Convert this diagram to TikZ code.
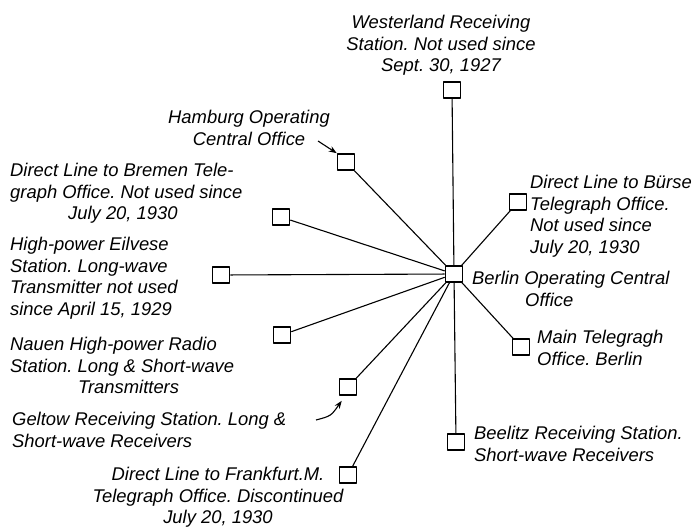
\documentclass[tikz,border=0pt]{standalone}
\usepackage{fontspec}
\setmainfont{Liberation Sans}
\usetikzlibrary{arrows.meta,positioning}
\tikzset{
  stn/.style={draw,line width=1.6pt,minimum width=17pt,minimum height=16pt,inner sep=0pt},
  lbl/.style={inner sep=0pt,font=\itshape\fontsize{18.4}{21.5}\selectfont},
  wire/.style={line width=1.1pt},
}
\frenchspacing

\begin{document}
\begin{tikzpicture}[x=1pt,y=-1pt,>=Stealth,line join=round]
\useasboundingbox (0,0) rectangle (692,529);
% --- stations
\node[stn] (berlin) at (454,274) {};
\node[stn] (west) at (452,90) {};
\node[stn] (ham) at (346,162) {};
\node[stn] (brem) at (281,217) {};
\node[stn] (eil) at (221,275) {};
\node[stn] (nau) at (282,335) {};
\node[stn] (gel) at (348,387) {};
\node[stn] (frk) at (348,475) {};
\node[stn] (beel) at (456,442) {};
\node[stn] (main) at (521,347) {};
\node[stn] (borse) at (518,202) {};
% --- lines out of Berlin
\foreach \s in {west,ham,brem,eil,nau,gel,frk,beel,main,borse}
  \draw[wire] (berlin) -- (\s);
% --- labels
\node[lbl,align=center,anchor=north] (westlbl) at (441,15) {Westerland Receiving\\Station. Not used since\\Sept. 30, 1927};
\node[lbl,align=center,anchor=north] (hamlbl) at (249,110) {Hamburg Operating\\Central Office};
\node[lbl,align=left,anchor=north west] (bremlbl) at (10,163) {Direct Line to Bremen Tele-\\graph Office. Not used since\\\hspace*{58pt}July 20, 1930};
\node[lbl,align=left,anchor=north west] (eillbl) at (10,237) {High-power Eilvese\\Station. Long-wave\\Transmitter not used\\since April 15, 1929};
\node[lbl,align=left,anchor=north west] (naulbl) at (10,337) {Nauen High-power Radio\\Station. Long \& Short-wave\\\hspace*{68pt}Transmitters};
\node[lbl,align=left,anchor=north west] (gellbl) at (12,412) {Geltow Receiving Station. Long \&\\Short-wave Receivers};
\node[lbl,align=center,anchor=north] (frklbl) at (218,467) {Direct Line to Frankfurt.M.\\Telegraph Office. Discontinued\\July 20, 1930};
\node[lbl,align=left,anchor=north west] (borselbl) at (530,175) {Direct Line to Bürse\\Telegraph Office.\\Not used since\\July 20, 1930};
\node[lbl,align=left,anchor=north west] (berlinlbl) at (472,271) {Berlin Operating Central\\\hspace*{53pt}Office};
\node[lbl,align=left,anchor=north west] (mainlbl) at (537,330) {Main Telegragh\\Office. Berlin};
\node[lbl,align=left,anchor=north west] (beellbl) at (474,426) {Beelitz Receiving Station.\\Short-wave Receivers};
% --- pointer arrows
\coordinate (hamtail) at (318,141);
\draw[wire,->] (hamtail) -- (ham.north west);
\coordinate (geltail) at (316,420);
\draw[wire,->] (geltail) .. controls (331,416) .. ([shift={(3pt,-5pt)}]gel.south west);
\end{tikzpicture}
\end{document}
